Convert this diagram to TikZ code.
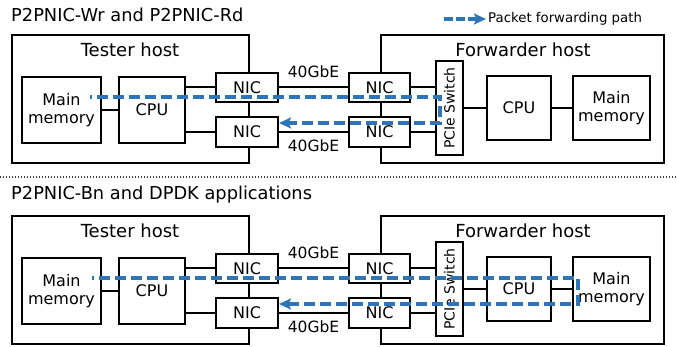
\documentclass[tikz,border=0pt]{standalone}
\usepackage{fontspec}
\setmainfont{DejaVu Sans}
\usetikzlibrary{arrows.meta,calc}
\definecolor{pathblue}{RGB}{46,117,182}
\tikzset{
  boxline/.style={draw, line width=2pt, inner sep=0pt},
  comp/.style={boxline, fill=white, align=center, font=\fontsize{16}{18.5}\selectfont},
  hostbox/.style={boxline},
  hostlbl/.style={inner sep=0pt, font=\fontsize{18}{20}\selectfont},
  titlelbl/.style={inner sep=0pt, anchor=west, font=\fontsize{17.8}{20}\selectfont},
  gbe/.style={inner sep=0pt, font=\fontsize{15.5}{18}\selectfont},
  wire/.style={line width=2pt},
  fwdpath/.style={draw=pathblue, line width=3.3pt, dash pattern=on 11pt off 5pt, dash phase=9pt,
    -{Stealth[length=12pt,width=11pt,inset=2.5pt]}},
}
\begin{document}
\begin{tikzpicture}[x=1pt,y=-1pt]
\useasboundingbox (0,0) rectangle (677,347);
% titles
\node[titlelbl] (title1) at (11,15) {P2PNIC-Wr and P2PNIC-Rd};
\node[titlelbl] (title2) at (11,195) {P2PNIC-Bn and DPDK applications};
% separator
\coordinate (sepL) at (0,177);
\coordinate (sepR) at (677,177);
\draw[line width=1.1pt, dash pattern=on 1.2pt off 1.8pt, black!75] (sepL) -- (sepR);
% legend
\coordinate (lg1) at (444,19);
\coordinate (lg2) at (486,19);
\draw[fwdpath, dash pattern=on 9pt off 3pt, dash phase=0pt] (lg1) -- (lg2);
\node[inner sep=0pt, anchor=west, font=\fontsize{13.3}{15}\selectfont] (legend) at (488,19) {Packet forwarding path};
\foreach \p/\dy in {a/0,b/181}{
\begin{scope}[yshift=-\dy pt]
  % host boxes
  \node[hostbox, minimum width=237pt, minimum height=128pt] (tester\p) at (130.5,99) {};
  \node[hostbox, minimum width=283pt, minimum height=128pt] (fwd\p) at (522.5,99) {};
  \node[hostlbl] (tlbl\p) at (130,50) {Tester host};
  \node[hostlbl] (flbl\p) at (523,50) {Forwarder host};
  % tester components
  \node[comp, minimum width=79pt, minimum height=66pt] (memA\p) at (61.5,110) {Main\\memory};
  \node[comp, minimum width=66pt, minimum height=66pt] (cpuA\p) at (152,110) {CPU};
  \node[comp, minimum width=62pt, minimum height=29pt] (nicA\p) at (247,87.5) {NIC};
  \node[comp, minimum width=62pt, minimum height=30pt] (nicB\p) at (247,132) {NIC};
  % forwarder components
  \node[comp, minimum width=61pt, minimum height=29pt] (nicC\p) at (379.5,87.5) {NIC};
  \node[comp, minimum width=61pt, minimum height=30pt] (nicD\p) at (379.5,132) {NIC};
  \node[comp, minimum width=27pt, minimum height=94pt] (pcie\p) at (449.5,108)
     {\rotatebox{90}{\fontsize{14}{16}\selectfont PCIe Switch}};
  \node[comp, minimum width=64pt, minimum height=64pt] (cpuB\p) at (519,108) {CPU};
  \node[comp, minimum width=77pt, minimum height=64pt] (memB\p) at (611.5,108) {Main\\memory};
  % wires
  \draw[wire] (memA\p) -- (cpuA\p);
  \draw[wire] (cpuA\p.east |- nicA\p) -- (nicA\p);
  \draw[wire] (cpuA\p.east |- nicB\p) -- (nicB\p);
  \draw[wire] (nicA\p) -- node[gbe, midway, yshift=15.5pt] (gbeT\p) {40GbE} (nicC\p);
  \draw[wire] (nicB\p) -- node[gbe, midway, yshift=-13.5pt] (gbeB\p) {40GbE} (nicD\p);
  \draw[wire] (nicC\p) -- (nicC\p -| pcie\p.west);
  \draw[wire] (nicD\p) -- (nicD\p -| pcie\p.west);
  \draw[wire] (pcie\p.east |- cpuB\p) -- (cpuB\p);
  \draw[wire] (cpuB\p) -- (memB\p);
\end{scope}
}
% forwarding paths
\coordinate (sa) at (90,97);
\coordinate (ta) at (440,97);
\coordinate (ua) at (440,123);
\draw[fwdpath] (sa) -- (ta) -- (ua) -- (nicBa.east |- ua);
\coordinate (sb) at (92,278);
\coordinate (tb) at (578,278);
\coordinate (ub) at (578,304);
\draw[fwdpath] (sb) -- (tb) -- (ub) -- (nicBb.east |- ub);
\end{tikzpicture}
\end{document}
